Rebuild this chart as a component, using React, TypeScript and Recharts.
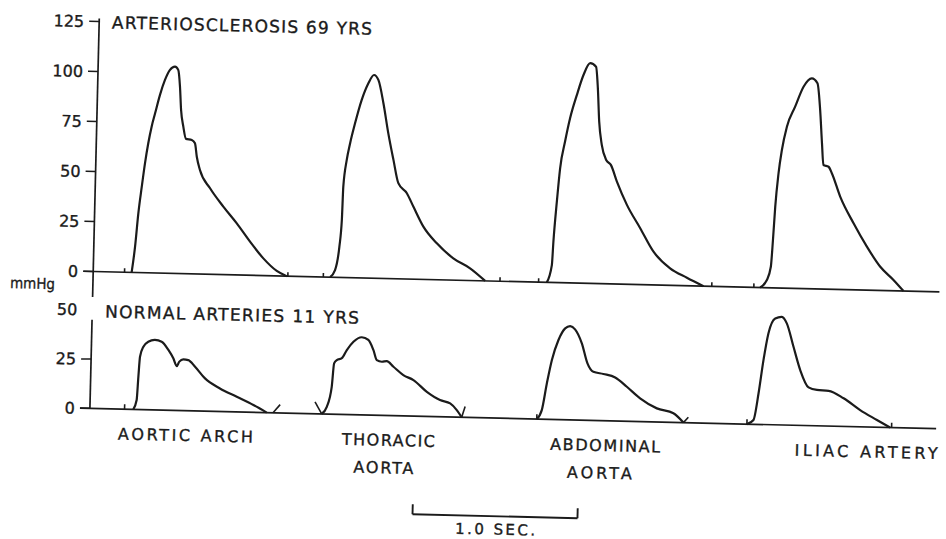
import React from 'react';
import { LineChart, Line, XAxis, YAxis, ReferenceLine } from 'recharts';

// ---------- data (time in seconds, pressure in mmHg) ----------
const scleroticTicks = [0, 25, 50, 75, 100, 125];
const normalTicks = [0, 25, 50];

// Arteriosclerosis, 69 yrs
const archOldT = [0.233, 0.25, 0.265, 0.282, 0.298, 0.315, 0.333, 0.352, 0.379, 0.407, 0.436, 0.466, 0.486, 0.499, 0.509, 0.525, 0.543, 0.578, 0.598, 0.611, 0.632, 0.696, 0.779, 0.863, 0.946, 1.029, 1.112, 1.173];
const archOldP = [0, 12.9, 29.6, 43.0, 54.7, 64.8, 73.1, 79.8, 89.1, 96.6, 101.7, 103.4, 101.8, 93.4, 81.8, 73.5, 67.4, 66.9, 65.3, 58.6, 52.0, 43.0, 34.0, 25.8, 16.8, 8.6, 2.5, 0];

const thoracicOldT = [1.436, 1.465, 1.488, 1.499, 1.503, 1.52, 1.538, 1.565, 1.602, 1.64, 1.673, 1.7, 1.734, 1.768, 1.803, 1.836, 1.889, 1.931, 1.994, 2.078, 2.18, 2.283, 2.376];
const thoracicOldP = [0, 3.6, 15.4, 28.7, 45.4, 58.8, 67.2, 77.2, 89.0, 97.4, 101.6, 99.2, 87.6, 72.6, 59.4, 47.8, 42.9, 36.2, 26.4, 18.2, 10.9, 6.1, 0];

const abdominalOldT = [2.75, 2.778, 2.784, 2.799, 2.814, 2.84, 2.867, 2.905, 2.942, 2.981, 3.017, 3.031, 3.044, 3.063, 3.092, 3.121, 3.16, 3.224, 3.308, 3.392, 3.495, 3.598, 3.7];
const abdominalOldP = [0, 8.7, 20.4, 40.5, 57.2, 70.6, 82.3, 94.1, 104.1, 110.1, 108.4, 97.7, 81.0, 69.4, 61.9, 59.5, 51.2, 39.7, 28.2, 16.6, 8.5, 4.0, 0];

const iliacOldT = [4.043, 4.083, 4.105, 4.114, 4.123, 4.138, 4.155, 4.182, 4.229, 4.277, 4.326, 4.361, 4.381, 4.397, 4.409, 4.44, 4.461, 4.515, 4.6, 4.684, 4.768, 4.85, 4.912];
const iliacOldP = [0, 3.8, 10.5, 23.9, 40.6, 57.3, 69.0, 80.7, 90.8, 100.9, 105.2, 102.8, 89.5, 72.8, 62.0, 61.2, 58.0, 46.4, 33.2, 21.7, 11.8, 5.4, 0];

// Normal arteries, 11 yrs
const archYoungT = [0.263, 0.282, 0.289, 0.296, 0.315, 0.344, 0.384, 0.425, 0.467, 0.498, 0.52, 0.535, 0.559, 0.589, 0.631, 0.693, 0.785, 0.888, 0.99, 1.072];
const archYoungP = [0, 4.8, 16.6, 26.8, 31.9, 34.5, 35.5, 34.7, 30.6, 26.4, 22.5, 24.8, 26.0, 25.7, 22.4, 16.6, 11.7, 7.7, 3.7, 0];

const thoracicYoungT = [1.405, 1.435, 1.462, 1.473, 1.489, 1.519, 1.548, 1.587, 1.637, 1.677, 1.709, 1.731, 1.762, 1.792, 1.833, 1.894, 1.956, 2.039, 2.12, 2.182, 2.223, 2.254];
const thoracicYoungP = [0, 3.7, 13.9, 25.8, 27.5, 28.5, 32.7, 37.0, 39.4, 38.1, 33.1, 28.0, 27.2, 27.6, 24.8, 20.7, 18.3, 12.5, 8.5, 6.9, 3.6, 0];

const abdominalYoungT = [2.709, 2.738, 2.765, 2.792, 2.829, 2.868, 2.898, 2.928, 2.971, 3.008, 3.045, 3.106, 3.178, 3.25, 3.332, 3.435, 3.536, 3.598];
const abdominalYoungP = [0, 4.6, 18.3, 30.2, 40.4, 46.4, 47.6, 46.0, 39.0, 28.9, 24.7, 23.7, 22.1, 17.5, 11.8, 6.9, 4.6, 0];

const iliacYoungT = [3.983, 4.022, 4.049, 4.074, 4.1, 4.139, 4.179, 4.21, 4.254, 4.298, 4.351, 4.402, 4.473, 4.565, 4.667, 4.77, 4.851];
const iliacYoungP = [0, 2.2, 15.8, 32.7, 46.3, 54.0, 54.9, 51.6, 39.8, 28.1, 19.4, 18.2, 17.9, 14.3, 8.5, 3.7, 0];

// small hand-drawn marks on the baselines
const oldMarkT0 = [0.19, 1.18, 1.395, 2.466, 2.7, 3.75, 4.005];
const oldMarkH = [2, 2, 2, 2, 2, 2, 2];
const youngMarkT0 = [0.21, 1.11, 1.363, 2.254, 2.709, 3.598, 3.983, 4.86];
const youngMarkP0 = [0, 0, 6, 0, 0, 0, 0, 0];
const youngMarkT1 = [0.21, 1.152, 1.405, 2.273, 2.709, 3.627, 3.983, 4.86];
const youngMarkP1 = [2.5, 4.2, 0, 5.5, 2.5, 2.8, 2.5, 2.5];

// time scale bar (seconds) and baseline extent
const scaleBarT = [1.97, 2.97];
const baselineT = [-0.06, 5.13];

const siteLine1 = ['AORTIC ARCH', 'THORACIC', 'ABDOMINAL', 'ILIAC ARTERY'];
const siteLine2 = ['', 'AORTA', 'AORTA', ''];

// ---------- styling / layout ----------
const INK = '#1b1b1b';
const FONT = 'DejaVu Sans, Verdana, sans-serif';
const AXIS_W = 93.2;
const X_DOMAIN: [number, number] = [0, 5.1];
const RIGHT = 946 - AXIS_W - 165 * 5.1;

const mk = (t: number[], p: number[]) => t.map((x, i) => ({ t: x, p: p[i] }));

const PressureTick = (props: any) => {
  const { x, y, payload, noMark } = props;
  return (
    <g>
      {payload.value !== noMark && (
        <line x1={x + 5} x2={x + 15} y1={y} y2={y} stroke={INK} strokeWidth={1.5} />
      )}
      <text x={x} y={y} dy="0.36em" textAnchor="end" fontSize={16} fill={INK} stroke={INK} strokeWidth={0.35} fontFamily={FONT}>
        {payload.value}
      </text>
    </g>
  );
};

const wave = (t: number[], p: number[], key: string) => (
  <Line
    key={key}
    data={mk(t, p)}
    dataKey="p"
    type="monotone"
    dot={false}
    activeDot={false}
    stroke={INK}
    strokeWidth={2.2}
    isAnimationActive={false}
  />
);

export default function App() {
  const siteX = [189.4, 392.4, 609.2, 870.3];
  const siteLen1 = [135, 93, 110, 143];
  const siteLen2 = [0, 60, 65, 0];
  const site2X = [0, 388, 604, 0];
  return (
    <div style={{ position: 'absolute', left: 0, top: 0, width: 946, height: 539, overflow: 'hidden', background: '#fff' }}>
      <div
        style={{
          position: 'absolute',
          left: 0,
          top: 0,
          width: 946,
          height: 539,
          transform: 'rotate(1.375deg)',
          transformOrigin: '93.2px 271.5px',
        }}
      >
        {/* Arteriosclerosis panel */}
        <div style={{ position: 'absolute', left: 0, top: 0 }}>
          <LineChart width={946} height={301.5} margin={{ top: 11.5, right: RIGHT, bottom: 0, left: 0 }}>
            <XAxis type="number" dataKey="t" domain={X_DOMAIN} hide />
            <YAxis
              type="number"
              domain={[-15, 130]}
              ticks={scleroticTicks}
              interval={0}
              width={AXIS_W}
              axisLine={false}
              tickLine={false}
              tickSize={10}
              tickMargin={5}
              tick={(p: any) => <PressureTick {...p} noMark={-1} />}
            />
            <ReferenceLine segment={[{ x: 0, y: -12.75 }, { x: 0, y: 126.5 }]} ifOverflow="visible" stroke={INK} strokeWidth={1.7} />
            <ReferenceLine segment={[{ x: baselineT[0], y: 0 }, { x: baselineT[1], y: 0 }]} ifOverflow="visible" stroke={INK} strokeWidth={1.7} />
            {oldMarkT0.map((t, i) => (
              <ReferenceLine key={'om' + i} segment={[{ x: t, y: 0 }, { x: t, y: oldMarkH[i] }]} ifOverflow="visible" stroke={INK} strokeWidth={1.6} />
            ))}
            {wave(archOldT, archOldP, 'a')}
            {wave(thoracicOldT, thoracicOldP, 'b')}
            {wave(abdominalOldT, abdominalOldP, 'c')}
            {wave(iliacOldT, iliacOldP, 'd')}
          </LineChart>
        </div>

        {/* Normal panel */}
        <div style={{ position: 'absolute', left: 0, top: 0 }}>
          <LineChart width={946} height={518.25} margin={{ top: 290.2, right: RIGHT, bottom: 100, left: 0 }}>
            <XAxis type="number" dataKey="t" domain={X_DOMAIN} hide />
            <YAxis
              type="number"
              domain={[-5, 60]}
              ticks={normalTicks}
              interval={0}
              width={AXIS_W}
              axisLine={false}
              tickLine={false}
              tickSize={10}
              tickMargin={5}
              tick={(p: any) => <PressureTick {...p} noMark={50} />}
            />
            <ReferenceLine segment={[{ x: 0, y: 0 }, { x: 0, y: 45 }]} ifOverflow="visible" stroke={INK} strokeWidth={1.7} />
            <ReferenceLine segment={[{ x: baselineT[0], y: 0 }, { x: baselineT[1], y: 0 }]} ifOverflow="visible" stroke={INK} strokeWidth={1.7} />
            {youngMarkT0.map((t, i) => (
              <ReferenceLine
                key={'ym' + i}
                segment={[{ x: t, y: youngMarkP0[i] }, { x: youngMarkT1[i], y: youngMarkP1[i] }]}
                ifOverflow="visible"
                stroke={INK}
                strokeWidth={1.6}
              />
            ))}
            <ReferenceLine segment={[{ x: scaleBarT[0], y: -44.7 }, { x: scaleBarT[0], y: -49.8 }]} ifOverflow="visible" stroke={INK} strokeWidth={1.9} />
            <ReferenceLine segment={[{ x: scaleBarT[0], y: -49.8 }, { x: scaleBarT[1], y: -49.8 }]} ifOverflow="visible" stroke={INK} strokeWidth={1.9} />
            <ReferenceLine segment={[{ x: scaleBarT[1], y: -49.8 }, { x: scaleBarT[1], y: -44.7 }]} ifOverflow="visible" stroke={INK} strokeWidth={1.9} />
            {wave(archYoungT, archYoungP, 'e')}
            {wave(thoracicYoungT, thoracicYoungP, 'f')}
            {wave(abdominalYoungT, abdominalYoungP, 'g')}
            {wave(iliacYoungT, iliacYoungP, 'h')}
          </LineChart>
        </div>

        {/* Text overlay */}
        <svg width={946} height={539} style={{ position: 'absolute', left: 0, top: 0, pointerEvents: 'none' }}>
          <g fill={INK} stroke={INK} strokeWidth={0.35} fontFamily={FONT}>
            <text x={106} y={22} dy="0.36em" fontSize={17} textLength={260} lengthAdjust="spacing">
              ARTERIOSCLEROSIS 69 YRS
            </text>
            <text x={32.8} y={285.5} dy="0.3em" fontSize={15} textAnchor="middle" textLength={45} lengthAdjust="spacingAndGlyphs">
              mmHg
            </text>
            <text x={106} y={311.2} dy="0.36em" fontSize={17} textLength={254} lengthAdjust="spacing">
              NORMAL ARTERIES 11 YRS
            </text>
            {siteLine1.map((s, i) => (
              <text key={'s1' + i} x={siteX[i]} y={433} dy="0.36em" fontSize={16} textAnchor="middle" textLength={siteLen1[i]} lengthAdjust="spacing">
                {s}
              </text>
            ))}
            {siteLine2.map((s, i) =>
              s ? (
                <text key={'s2' + i} x={site2X[i]} y={460.5} dy="0.36em" fontSize={16} textAnchor="middle" textLength={siteLen2[i]} lengthAdjust="spacing">
                  {s}
                </text>
              ) : null
            )}
            <text x={501.2} y={519.5} dy="0.36em" fontSize={15} textAnchor="middle" textLength={80} lengthAdjust="spacing">
              1.0 SEC.
            </text>
          </g>
        </svg>
      </div>
    </div>
  );
}
